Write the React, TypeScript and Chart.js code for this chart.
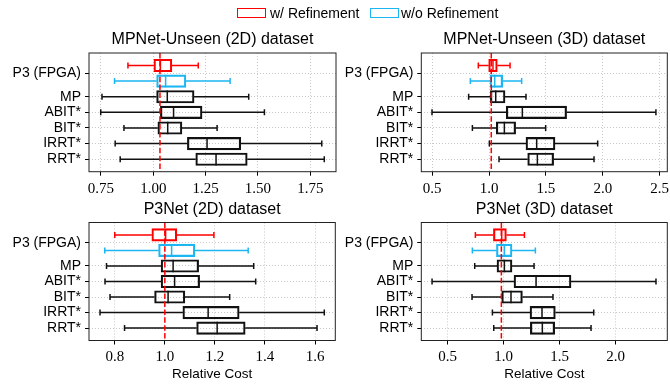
import React, { useEffect, useRef } from 'react';
import { Chart, registerables } from 'chart.js';

Chart.register(...registerables);

// Row labels and their positions on the vertical value axis
const rowLabels = ['RRT*', 'IRRT*', 'BIT*', 'ABIT*', 'MP', 'P3 (FPGA)'];
const rowPositions = [0, 1, 2, 3, 4, 5.5];
const withRefPosition = 6;
const withoutRefPosition = 5;

// Five-number summaries: [low whisker, Q1, median, Q3, high whisker]
// Baseline rows in order: RRT*, IRRT*, BIT*, ABIT*, MP

// MPNet-Unseen (2D)
const mp2dBaselines = [
  [0.842, 1.203, 1.3, 1.449, 1.817],
  [0.818, 1.163, 1.257, 1.418, 1.805],
  [0.86, 1.022, 1.069, 1.137, 1.305],
  [0.749, 1.034, 1.097, 1.233, 1.531],
  [0.755, 1.016, 1.067, 1.195, 1.456],
];
const mp2dWithRef = [0.879, 1.003, 1.034, 1.089, 1.215];
const mp2dWithoutRef = [0.815, 1.016, 1.059, 1.156, 1.367];
const mp2dRefLine = 1.032;
const mp2dTicks = [0.75, 1.0, 1.25, 1.5, 1.75];

// MPNet-Unseen (3D)
const mp3dBaselines = [
  [1.088, 1.34, 1.425, 1.568, 1.923],
  [1.003, 1.325, 1.419, 1.58, 1.955],
  [0.854, 1.064, 1.135, 1.234, 1.498],
  [0.499, 1.152, 1.293, 1.682, 2.467],
  [0.821, 1.012, 1.059, 1.141, 1.325],
];
const mp3dWithRef = [0.906, 0.997, 1.035, 1.073, 1.185];
const mp3dWithoutRef = [0.836, 1.009, 1.05, 1.12, 1.287];
const mp3dRefLine = 1.02;
const mp3dTicks = [0.5, 1.0, 1.5, 2.0, 2.5];

// P3Net (2D)
const p32dBaselines = [
  [0.839, 1.127, 1.209, 1.321, 1.608],
  [0.741, 1.072, 1.173, 1.297, 1.637],
  [0.781, 0.959, 1.013, 1.08, 1.259],
  [0.761, 0.985, 1.039, 1.139, 1.363],
  [0.767, 0.985, 1.033, 1.135, 1.355],
];
const p32dWithRef = [0.8, 0.948, 1.003, 1.048, 1.196];
const p32dWithoutRef = [0.76, 0.975, 1.027, 1.12, 1.333];
const p32dRefLine = 1.0;
const p32dTicks = [0.8, 1.0, 1.2, 1.4, 1.6];

// P3Net (3D)
const p33dBaselines = [
  [0.911, 1.238, 1.345, 1.455, 1.78],
  [0.899, 1.235, 1.342, 1.461, 1.804],
  [0.717, 0.982, 1.065, 1.167, 1.44],
  [0.36, 1.092, 1.289, 1.601, 2.36],
  [0.741, 0.94, 1.006, 1.074, 1.271],
];
const p33dWithRef = [0.747, 0.908, 0.982, 1.024, 1.185];
const p33dWithoutRef = [0.72, 0.935, 1.006, 1.074, 1.283];
const p33dRefLine = 0.979;
const p33dTicks = [0.5, 1.0, 1.5, 2.0];

const legendLabels = ['w/ Refinement', 'w/o Refinement'];

const BLACK = '#111111';
const RED = '#ff0000';
const BLUE = '#1cb6f2';
const SANS = "'Liberation Sans', Arial, sans-serif";
const SERIF = "'Liberation Serif', 'Times New Roman', serif";

const W = 670;
const H = 385;

type Panel = {
  title: string;
  baselines: number[][];
  withRef: number[];
  withoutRef: number[];
  refLine: number;
  ticks: number[];
  decimals: number;
  xMin: number;
  xMax: number;
  area: { left: number; right: number; top: number; bottom: number };
  xTitle: boolean;
};

const panels: Panel[] = [
  {
    title: 'MPNet-Unseen (2D) dataset',
    baselines: mp2dBaselines,
    withRef: mp2dWithRef,
    withoutRef: mp2dWithoutRef,
    refLine: mp2dRefLine,
    ticks: mp2dTicks,
    decimals: 2,
    xMin: 0.693,
    xMax: 1.873,
    area: { left: 89, right: 336, top: 53, bottom: 171.7 },
    xTitle: false,
  },
  {
    title: 'MPNet-Unseen (3D) dataset',
    baselines: mp3dBaselines,
    withRef: mp3dWithRef,
    withoutRef: mp3dWithoutRef,
    refLine: mp3dRefLine,
    ticks: mp3dTicks,
    decimals: 1,
    xMin: 0.405,
    xMax: 2.567,
    area: { left: 421.3, right: 667.3, top: 53, bottom: 171.7 },
    xTitle: false,
  },
  {
    title: 'P3Net (2D) dataset',
    baselines: p32dBaselines,
    withRef: p32dWithRef,
    withoutRef: p32dWithoutRef,
    refLine: p32dRefLine,
    ticks: p32dTicks,
    decimals: 1,
    xMin: 0.697,
    xMax: 1.681,
    area: { left: 89, right: 335.3, top: 222.5, bottom: 340.5 },
    xTitle: true,
  },
  {
    title: 'P3Net (3D) dataset',
    baselines: p33dBaselines,
    withRef: p33dWithRef,
    withoutRef: p33dWithoutRef,
    refLine: p33dRefLine,
    ticks: p33dTicks,
    decimals: 1,
    xMin: 0.264,
    xMax: 2.461,
    area: { left: 421.3, right: 667.3, top: 222.5, bottom: 340.5 },
    xTitle: true,
  },
];

const Y_MIN = -0.8;
const Y_MAX = 6.8;
const Y_AXIS_W = 89;
const TITLE_SIZE = 16;
const TITLE_LH = 1.2;
const BOX_PX = 12.5;
const CAP_HALF = 3;

function makeWhiskerPlugin(p: Panel) {
  return {
    id: 'whiskers',
    afterDatasetsDraw(chart: any) {
      const { ctx, chartArea: a, scales } = chart;
      const x = scales.x;
      const y = scales.y;
      const draw = (r: number[], pos: number, color: string) => {
        const yc = y.getPixelForValue(pos);
        const xl = x.getPixelForValue(r[0]);
        const x1 = x.getPixelForValue(r[1]);
        const xm = x.getPixelForValue(r[2]);
        const x3 = x.getPixelForValue(r[3]);
        const xh = x.getPixelForValue(r[4]);
        ctx.save();
        ctx.strokeStyle = color;
        ctx.lineWidth = 1.5;
        ctx.beginPath();
        ctx.moveTo(xl, yc);
        ctx.lineTo(x1, yc);
        ctx.moveTo(x3, yc);
        ctx.lineTo(xh, yc);
        ctx.moveTo(xl, yc - CAP_HALF);
        ctx.lineTo(xl, yc + CAP_HALF);
        ctx.moveTo(xh, yc - CAP_HALF);
        ctx.lineTo(xh, yc + CAP_HALF);
        ctx.moveTo(xm, yc - BOX_PX / 2);
        ctx.lineTo(xm, yc + BOX_PX / 2);
        ctx.stroke();
        ctx.restore();
      };
      p.baselines.forEach((r, i) => draw(r, rowPositions[i], BLACK));
      draw(p.withRef, withRefPosition, RED);
      draw(p.withoutRef, withoutRefPosition, BLUE);

      // reference line
      const xr = x.getPixelForValue(p.refLine);
      ctx.save();
      ctx.strokeStyle = RED;
      ctx.lineWidth = 1.5;
      ctx.setLineDash([5.5, 2.4]);
      ctx.beginPath();
      ctx.moveTo(xr, a.top);
      ctx.lineTo(xr, a.bottom);
      ctx.stroke();
      ctx.restore();

      // frame
      ctx.save();
      ctx.strokeStyle = '#222222';
      ctx.lineWidth = 1;
      ctx.strokeRect(a.left, a.top, a.right - a.left, a.bottom - a.top);
      ctx.restore();
    },
  };
}

function makeConfig(p: Panel): any {
  const a = p.area;
  const titleCenter = a.top - 13.3;
  const padTop = titleCenter - (TITLE_SIZE * TITLE_LH) / 2;
  const titlePadBottom = a.top - padTop - TITLE_SIZE * TITLE_LH;
  const xAxisH = p.xTitle ? 41.6 : 25;
  const padBottom = H - a.bottom - xAxisH;

  const boxStyle = {
    backgroundColor: 'rgba(0,0,0,0)',
    borderWidth: 1.5,
    borderSkipped: false,
    barThickness: BOX_PX,
    grouped: false,
  };

  return {
    type: 'bar',
    data: {
      datasets: [
        {
          label: 'baselines',
          data: p.baselines.map((r, i) => ({ x: [r[1], r[3]], y: rowPositions[i] })),
          borderColor: BLACK,
          ...boxStyle,
        },
        {
          label: legendLabels[0],
          data: [{ x: [p.withRef[1], p.withRef[3]], y: withRefPosition }],
          borderColor: RED,
          ...boxStyle,
        },
        {
          label: legendLabels[1],
          data: [{ x: [p.withoutRef[1], p.withoutRef[3]], y: withoutRefPosition }],
          borderColor: BLUE,
          ...boxStyle,
        },
      ],
    },
    options: {
      indexAxis: 'y',
      responsive: false,
      maintainAspectRatio: false,
      animation: false,
      events: [],
      layout: {
        padding: {
          left: a.left - Y_AXIS_W,
          right: W - a.right,
          top: padTop,
          bottom: padBottom,
        },
      },
      plugins: {
        legend: { display: false },
        tooltip: { enabled: false },
        title: {
          display: true,
          text: p.title,
          fullSize: false,
          color: '#000',
          font: { family: SANS, size: TITLE_SIZE, weight: 'normal', lineHeight: TITLE_LH },
          padding: { top: 0, bottom: titlePadBottom },
        },
      },
      scales: {
        x: {
          type: 'linear',
          position: 'bottom',
          min: p.xMin,
          max: p.xMax,
          afterBuildTicks: (s: any) => {
            s.ticks = p.ticks.map((v) => ({ value: v }));
          },
          afterFit: (s: any) => {
            s.height = xAxisH;
            s.paddingLeft = 0;
            s.paddingRight = 0;
          },
          ticks: {
            autoSkip: false,
            maxRotation: 0,
            color: '#000',
            padding: 4,
            font: { family: SERIF, size: 15 },
            callback: (v: number) => Number(v).toFixed(p.decimals),
          },
          grid: {
            color: 'rgba(0,0,0,0.22)',
            lineWidth: 1,
            tickColor: '#000',
            tickLength: 4,
            tickWidth: 1,
          },
          border: { display: false, dash: [1, 2] },
          title: {
            display: p.xTitle,
            text: 'Relative Cost',
            color: '#000',
            font: { family: SANS, size: 13.5 },
            padding: 0,
          },
        },
        y: {
          type: 'linear',
          min: Y_MIN,
          max: Y_MAX,
          offset: false,
          afterBuildTicks: (s: any) => {
            s.ticks = rowPositions.map((v) => ({ value: v }));
          },
          afterFit: (s: any) => {
            s.width = Y_AXIS_W;
            s.paddingTop = 0;
            s.paddingBottom = 0;
          },
          ticks: {
            autoSkip: false,
            color: '#000',
            padding: 4,
            font: { family: SANS, size: 14 },
            callback: (v: number) => {
              const i = rowPositions.indexOf(Number(v));
              return i >= 0 ? rowLabels[i] : '';
            },
          },
          grid: {
            offset: false,
            color: 'rgba(0,0,0,0.22)',
            lineWidth: 1,
            tickColor: '#000',
            tickLength: 4,
            tickWidth: 1,
          },
          border: { display: false, dash: [1, 2] },
        },
      },
    },
    plugins: [makeWhiskerPlugin(p)],
  };
}

function PanelChart({ panel }: { panel: Panel }) {
  const ref = useRef<HTMLCanvasElement | null>(null);
  useEffect(() => {
    if (!ref.current) return;
    const chart = new Chart(ref.current, makeConfig(panel));
    return () => chart.destroy();
  }, [panel]);
  return (
    <canvas
      ref={ref}
      width={W}
      height={H}
      style={{ position: 'absolute', left: 0, top: 0, width: W, height: H }}
    />
  );
}

export default function App() {
  const legendText: React.CSSProperties = {
    position: 'absolute',
    top: 6.4,
    fontFamily: SANS,
    fontSize: 14,
    lineHeight: '14px',
    color: '#000',
    whiteSpace: 'nowrap',
  };
  const legendBox = (color: string, left: number): React.CSSProperties => ({
    position: 'absolute',
    left,
    top: 7.5,
    width: 29,
    height: 10,
    boxSizing: 'border-box',
    border: `1.5px solid ${color}`,
  });
  return (
    <div
      style={{
        position: 'fixed',
        left: 0,
        top: 0,
        width: W,
        height: H,
        background: '#fff',
        overflow: 'hidden',
      }}
    >
      {panels.map((p, i) => (
        <PanelChart key={i} panel={p} />
      ))}
      <div style={legendBox(RED, 237)} />
      <div style={{ ...legendText, left: 270 }}>{legendLabels[0]}</div>
      <div style={legendBox(BLUE, 369.5)} />
      <div style={{ ...legendText, left: 401 }}>{legendLabels[1]}</div>
    </div>
  );
}
